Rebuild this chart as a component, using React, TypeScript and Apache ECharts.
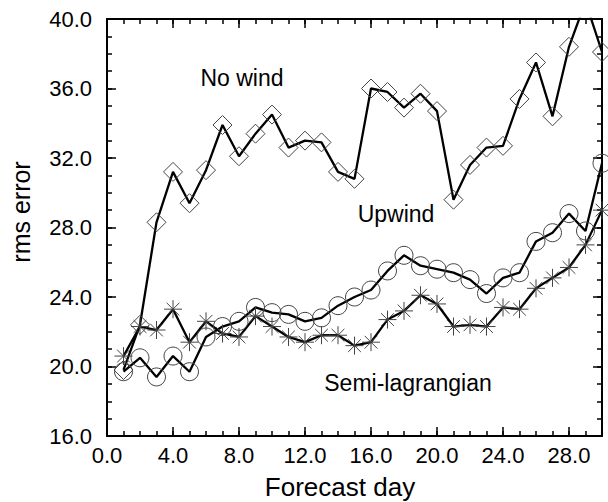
import React, { useEffect, useRef } from "react";
import * as echarts from "echarts";

const days = [1, 2, 3, 4, 5, 6, 7, 8, 9, 10, 11, 12, 13, 14, 15, 16, 17, 18, 19, 20, 21, 22, 23, 24, 25, 26, 27, 28, 29, 30];
const noWind = [19.8, 22.4, 28.3, 31.2, 29.4, 31.3, 33.9, 32.1, 33.4, 34.5, 32.6, 33.0, 32.9, 31.2, 30.8, 36.0, 35.8, 34.9, 35.7, 34.7, 29.6, 31.6, 32.6, 32.7, 35.4, 37.5, 34.4, 38.4, 41.0, 38.1];
const upwind = [19.7, 20.5, 19.4, 20.6, 19.7, 21.7, 22.3, 22.6, 23.4, 23.1, 23.0, 22.6, 22.8, 23.5, 24.0, 24.4, 25.5, 26.4, 25.8, 25.6, 25.4, 25.0, 24.2, 25.1, 25.4, 27.2, 27.7, 28.8, 27.8, 31.7];
const semiLagrangian = [20.6, 22.3, 22.1, 23.3, 21.4, 22.6, 21.9, 21.7, 22.9, 22.3, 21.7, 21.4, 21.8, 21.8, 21.2, 21.4, 22.7, 23.2, 24.1, 23.6, 22.3, 22.4, 22.3, 23.4, 23.3, 24.5, 25.1, 25.7, 27.0, 29.0];

const xMin = 0;
const xMax = 30;
const yMin = 16;
const yMax = 40;
const majorStep = 4;

const FONT = "'Liberation Sans', Arial, Helvetica, sans-serif";
const ASTERISK = "path://M0,-10L0,10M-10,0L10,0M-7.07,-7.07L7.07,7.07M-7.07,7.07L7.07,-7.07";

function pairs(vals: number[]) {
  return days.map((d, i) => [d, vals[i]]);
}

export default function App() {
  const ref = useRef<HTMLDivElement>(null);
  useEffect(() => {
    if (!ref.current) return;
    const chart = echarts.init(ref.current, undefined, { renderer: "svg" });

    const lineStyle = { color: "#000", width: 2 };
    const major = (pos: string, labels: boolean, isX: boolean) => ({
      type: "value",
      position: pos,
      min: isX ? xMin : yMin,
      max: isX ? xMax : yMax,
      interval: majorStep,
      axisLine: { show: true, onZero: false, lineStyle },
      axisTick: { show: true, inside: true, length: 9, lineStyle: { color: "#000", width: 1.5 } },
      axisLabel: labels
        ? {
            show: true,
            fontSize: 22,
            fontFamily: FONT,
            color: "#000",
            margin: isX ? 8 : 15,
            formatter: (v: number) => (isX && v === xMax ? "" : v.toFixed(1)),
          }
        : { show: false },
      splitLine: { show: false },
    });
    const minor = (pos: string, isX: boolean) => ({
      type: "value",
      position: pos,
      min: isX ? xMin : yMin,
      max: isX ? xMax : yMax,
      interval: 1,
      axisLine: { show: false, onZero: false },
      axisTick: { show: true, inside: true, length: 5, lineStyle: { color: "#000", width: 1.5 } },
      axisLabel: { show: false },
      splitLine: { show: false },
    });

    const symStyle = { color: "transparent", borderColor: "#444", borderWidth: 1 };
    const seriesLine = { color: "#000", width: 2.3 };

    chart.setOption({
      animation: false,
      backgroundColor: "#fff",
      grid: { left: 107, top: 19, width: 495, height: 417, containLabel: false },
      xAxis: [major("bottom", true, true), minor("bottom", true), major("top", false, true), minor("top", true)],
      yAxis: [major("left", true, false), minor("left", false), major("right", false, false), minor("right", false)],
      series: [
        {
          name: "No wind",
          type: "line",
          data: pairs(noWind),
          symbol: "diamond",
          symbolSize: 19,
          lineStyle: seriesLine,
          itemStyle: symStyle,
          clip: true,
        },
        {
          name: "Upwind",
          type: "line",
          data: pairs(upwind),
          symbol: "circle",
          symbolSize: 18,
          lineStyle: seriesLine,
          itemStyle: symStyle,
          clip: true,
        },
        {
          name: "Semi-lagrangian",
          type: "line",
          data: pairs(semiLagrangian),
          symbol: ASTERISK,
          symbolSize: 18,
          lineStyle: seriesLine,
          itemStyle: symStyle,
          clip: true,
        },
      ],
      graphic: [
        { type: "text", x: 242, y: 78, style: { text: "No wind", font: `23px ${FONT}`, fill: "#000", textAlign: "center", textVerticalAlign: "middle" } },
        { type: "text", x: 396, y: 214, style: { text: "Upwind", font: `23px ${FONT}`, fill: "#000", textAlign: "center", textVerticalAlign: "middle" } },
        { type: "text", x: 408, y: 383, style: { text: "Semi-lagrangian", font: `23px ${FONT}`, fill: "#000", textAlign: "center", textVerticalAlign: "middle" } },
        { type: "text", x: 340, y: 487, style: { text: "Forecast day", font: `26px ${FONT}`, fill: "#000", textAlign: "center", textVerticalAlign: "middle" } },
        { type: "text", x: 21, y: 212, rotation: Math.PI / 2, style: { text: "rms error", font: `25px ${FONT}`, fill: "#000", textAlign: "center", textVerticalAlign: "middle" } },
      ],
    });
    return () => chart.dispose();
  }, []);
  return <div ref={ref} style={{ position: "fixed", left: 0, top: 0, width: 608, height: 502 }} />;
}
